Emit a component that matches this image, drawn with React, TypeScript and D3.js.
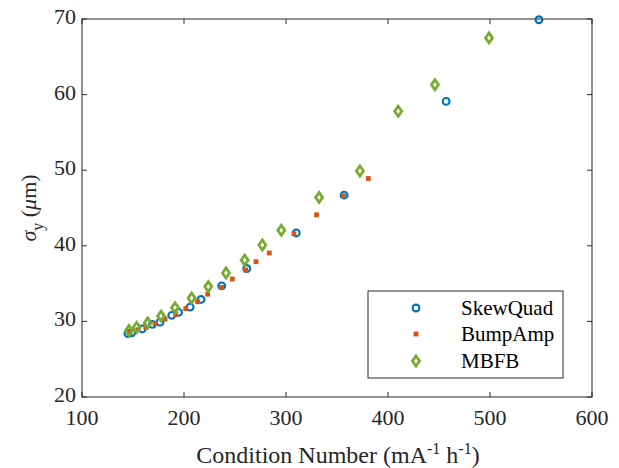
import * as d3 from 'd3';

// values
const skewX = [145, 148.7, 159, 169, 176.5, 188, 194.7, 206, 216.7, 237, 261.5, 310, 357, 457, 548];
const skewY = [28.4, 28.5, 29.0, 29.6, 29.9, 30.8, 31.2, 31.9, 32.9, 34.7, 37.0, 41.7, 46.7, 59.1, 69.9];

const bumpX = [147, 155, 162.7, 171.6, 181.4, 191.8, 201.7, 213.4, 223.2, 237, 247.4, 260.5, 270.6, 283.6, 307.8, 330, 356.5, 380.7];
const bumpY = [28.6, 28.9, 29.2, 29.7, 30.3, 30.9, 31.7, 32.6, 33.6, 34.5, 35.6, 36.8, 37.9, 39.05, 41.6, 44.1, 46.6, 48.9];

const mbfbX = [146, 153.6, 164.4, 177.5, 191.2, 207.5, 223.8, 241.2, 259.5, 276.8, 295.4, 332.4, 372.5, 410, 446, 499];
const mbfbY = [28.8, 29.2, 29.8, 30.7, 31.8, 33.1, 34.6, 36.4, 38.1, 40.1, 42.05, 46.4, 49.9, 57.8, 61.3, 67.5];

const xTicks = [100, 200, 300, 400, 500, 600];
const yTicks = [20, 30, 40, 50, 60, 70];
const legendNames = ['SkewQuad', 'BumpAmp', 'MBFB'];

const BLUE = '#0072BD';
const ORANGE = '#D95319';
const GREEN = '#77AC30';
const AXIS = '#262626';
const FONT = "'Liberation Serif', 'DejaVu Serif', Times, serif";

const W = 619, H = 468;
const m = { left: 82, right: 592, top: 19, bottom: 397 };

const Circle = ({ x, y }: { x: number; y: number }) => (
  <circle cx={x} cy={y} r={3.4} fill="none" stroke={BLUE} strokeWidth={2.1} />
);
const Dot = ({ x, y }: { x: number; y: number }) => (
  <rect x={x - 2.4} y={y - 2.4} width={4.8} height={4.8} fill={ORANGE} />
);
const Diamond = ({ x, y }: { x: number; y: number }) => (
  <path d={`M${x},${y - 5}L${x + 3.5},${y}L${x},${y + 5}L${x - 3.5},${y}Z`}
    fill="none" stroke={GREEN} strokeWidth={2.8} strokeLinejoin="miter" />
);

export default function App() {
  const x = d3.scaleLinear().domain([100, 600]).range([m.left, m.right]);
  const y = d3.scaleLinear().domain([20, 70]).range([m.bottom, m.top]);
  const tl = 5;

  const legendX = 368, legendY = 291, legendW = 195, legendH = 87;
  const rows = [308, 334, 361];
  const ts = { fontFamily: FONT };

  return (
    <svg width={W} height={H} style={{ position: 'absolute', left: 0, top: 0, background: '#fff', fontFamily: FONT }}>
      <rect width={W} height={H} fill="#fff" />
      <rect x={m.left} y={m.top} width={m.right - m.left} height={m.bottom - m.top}
        fill="none" stroke={AXIS} strokeWidth={1} />
      {xTicks.map(t => (
        <g key={'x' + t}>
          <line x1={x(t)} x2={x(t)} y1={m.bottom} y2={m.bottom - tl} stroke={AXIS} />
          <line x1={x(t)} x2={x(t)} y1={m.top} y2={m.top + tl} stroke={AXIS} />
          <text style={ts} x={x(t)} y={425} textAnchor="middle" fontSize={22} fill={AXIS}>{t}</text>
        </g>
      ))}
      {yTicks.map(t => (
        <g key={'y' + t}>
          <line x1={m.left} x2={m.left + tl} y1={y(t)} y2={y(t)} stroke={AXIS} />
          <line x1={m.right} x2={m.right - tl} y1={y(t)} y2={y(t)} stroke={AXIS} />
          <text style={ts} x={76} y={y(t) + 5} textAnchor="end" fontSize={22} fill={AXIS}>{t}</text>
        </g>
      ))}
      <text style={ts} x={338} y={463} textAnchor="middle" fontSize={24} fill={AXIS}>
        Condition Number (mA<tspan dy={-9} fontSize={16}>-1</tspan>
        <tspan dy={9}> h</tspan><tspan dy={-9} fontSize={16}>-1</tspan><tspan dy={9}>)</tspan>
      </text>
      <text style={ts} transform={`translate(36,${(m.top + m.bottom) / 2}) rotate(-90)`} textAnchor="middle"
        fontSize={22} fill={AXIS}>
        <tspan fontStyle="italic">σ</tspan><tspan dy={7} fontSize={16}>y</tspan>
        <tspan dy={-7}> (</tspan><tspan fontStyle="italic">μ</tspan>m)
      </text>

      {skewX.map((v, i) => <Circle key={'s' + i} x={x(v)} y={y(skewY[i])} />)}
      {bumpX.map((v, i) => <Dot key={'b' + i} x={x(v)} y={y(bumpY[i])} />)}
      {mbfbX.map((v, i) => <Diamond key={'m' + i} x={x(v)} y={y(mbfbY[i])} />)}

      <rect x={legendX} y={legendY} width={legendW} height={legendH} fill="#fff" stroke={AXIS} strokeWidth={1} />
      <Circle x={416} y={rows[0]} />
      <Dot x={416} y={rows[1]} />
      <Diamond x={416} y={rows[2]} />
      {legendNames.map((n, i) => (
        <text key={n} style={ts} x={461} y={rows[i] + 7} fontSize={21} fill="#000">{n}</text>
      ))}
    </svg>
  );
}
